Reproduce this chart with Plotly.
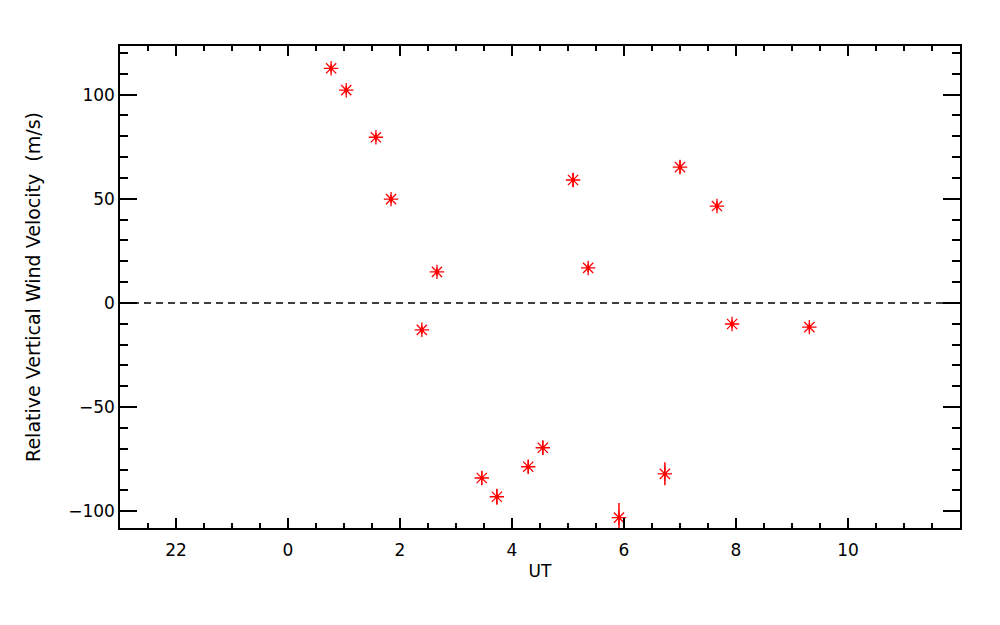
import plotly.graph_objects as go

# Data (UT hours, relative vertical wind m/s, error m/s)
ut_hours = [0.77, 1.04, 1.57, 1.84, 2.66, 2.39, 3.46, 3.73, 4.29, 4.55,
            5.09, 5.36, 5.91, 7.00, 6.73, 7.66, 7.93, 9.31]
velocity = [112.6, 102.1, 79.5, 49.8, 14.9, -12.9, -84.0, -93.0, -78.6, -69.5,
            59.0, 16.8, -103.0, 65.2, -82.0, 46.5, -10.1, -11.6]
vel_err = [2.0, 2.0, 2.0, 2.0, 2.0, 2.0, 3.2, 3.8, 3.2, 3.5,
           3.4, 2.0, 7.0, 3.1, 5.5, 2.0, 2.0, 2.0]

x_tick_vals = [-2, 0, 2, 4, 6, 8, 10]
x_tick_text = ["22", "0", "2", "4", "6", "8", "10"]
y_tick_vals = [-100, -50, 0, 50, 100]
y_tick_text = ["\u2212100", "\u221250", "0", "50", "100"]

FONT = "DejaVu Sans"
RED = "#ff0000"

fig = go.Figure()

fig.add_trace(go.Scatter(
    x=ut_hours, y=velocity, mode="markers",
    marker=dict(symbol="asterisk-open", size=12, color=RED,
                line=dict(color=RED, width=1.3)),
    error_y=dict(type="data", array=vel_err, visible=True,
                 color=RED, thickness=1.5, width=0),
    showlegend=False,
))
fig.add_trace(go.Scatter(
    x=ut_hours, y=velocity, mode="markers",
    marker=dict(symbol="circle", size=4, color=RED),
    showlegend=False, hoverinfo="skip",
))

fig.add_shape(type="line", xref="x", yref="y", x0=-3, x1=12, y0=0, y1=0,
              line=dict(color="black", width=1.4, dash="7px,5px"))

axis_common = dict(
    showgrid=False, zeroline=False, showline=True, linecolor="black",
    linewidth=1.5, mirror="allticks", ticks="inside", tickcolor="black",
    tickwidth=1.5, tickfont=dict(family=FONT, size=17, color="black"),
)

fig.update_xaxes(
    range=[-3, 12], tickvals=x_tick_vals, ticktext=x_tick_text, ticklen=10,
    ticklabelstandoff=6,
    minor=dict(dtick=0.5, tick0=0, ticks="inside", ticklen=5,
               tickcolor="black", tickwidth=1.5),
    title=dict(text="UT", font=dict(family=FONT, size=17, color="black"),
               standoff=6),
    **axis_common,
)
fig.update_yaxes(
    range=[-108, 123.3], tickvals=y_tick_vals, ticktext=y_tick_text, ticklen=17,
    minor=dict(dtick=10, tick0=0, ticks="inside", ticklen=8,
               tickcolor="black", tickwidth=1.5),
    title=dict(text="Relative Vertical Wind Velocity  (m/s)",
               font=dict(family=FONT, size=19, color="black"), standoff=22),
    **axis_common,
)

fig.update_layout(
    width=1000, height=625,
    margin=dict(l=112, r=48, t=38, b=105),
    paper_bgcolor="white", plot_bgcolor="white",
    font=dict(family=FONT, size=17, color="black"),
)

fig.write_html("out.html")
